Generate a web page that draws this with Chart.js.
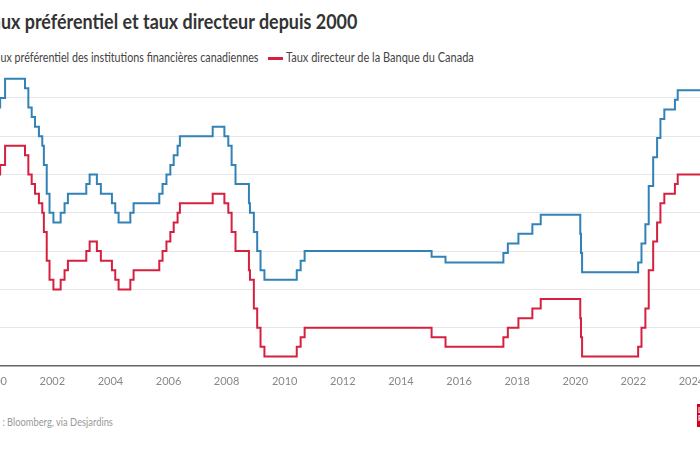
<!DOCTYPE html>
<html lang="fr">
<head>
<meta charset="utf-8">
<script src="https://cdn.jsdelivr.net/npm/chart.js@4.4.1/dist/chart.umd.min.js"></script>
<style>
  html, body { margin:0; padding:0; background:#fff; }
  body { width:700px; height:450px; overflow:hidden; position:relative; font-family: Lato, "Open Sans", sans-serif; }
  .txt { position:absolute; white-space:nowrap; transform-origin:0 0; }
  #title { top:8px; font-size:21px; font-weight:700; color:#333; }
  .lgtxt { top:49px; font-size:13.5px; color:#444; }
  .mk { position:absolute; width:15px; height:2.5px; top:57px; }
  #wrap { position:absolute; left:-60px; top:50px; width:776px; height:346px; }
  #source { top:415px; font-size:11px; color:#999; }
  #logo { position:absolute; left:697px; top:404px; width:30px; height:23px; background:#d0021b; color:#fff; font-size:7px; font-weight:700; line-height:8px; padding:2px 1px; box-sizing:border-box; }
</style>
</head>
<body>
<div id="title" class="txt">Taux préférentiel et taux directeur depuis 2000</div>
<span id="mk0" class="mk" style="left:-40px"></span>
<div id="lg0" class="txt lgtxt"></div>
<span id="mk1" class="mk" style="left:268px"></span>
<div id="lg1" class="txt lgtxt"></div>
<div id="wrap"><canvas id="c" width="776" height="346"></canvas></div>
<div id="source" class="txt">Source : Bloomberg, via Desjardins</div>
<div id="logo">LA<br>PRESSE</div>
<script>
// ---- Data ----
const seriesNames = ["Taux préférentiel des institutions financières canadiennes", "Taux directeur de la Banque du Canada"];
const seriesColors = ["#3282b8", "#d5213f"];

const primeDates = ["2000-01-01","2000-02-03","2000-03-16","2000-05-17","2001-01-23","2001-03-06","2001-04-17","2001-05-29","2001-07-17","2001-08-28","2001-09-17","2001-10-23","2001-11-27","2002-01-15","2002-04-16","2002-06-04","2002-07-16","2003-03-04","2003-04-15","2003-07-15","2003-09-03","2004-01-20","2004-03-02","2004-04-13","2004-09-08","2004-10-19","2005-09-07","2005-10-18","2005-12-06","2006-01-24","2006-03-07","2006-04-25","2006-05-24","2007-07-10","2007-12-04","2008-01-22","2008-03-04","2008-04-22","2008-10-08","2008-10-21","2008-12-09","2009-01-20","2009-03-03","2009-04-21","2010-06-01","2010-07-20","2010-09-08","2015-01-21","2015-07-15","2017-07-12","2017-09-06","2018-01-17","2018-07-11","2018-10-24","2020-03-04","2020-03-13","2020-03-27","2022-03-02","2022-04-13","2022-06-01","2022-07-13","2022-09-07","2022-10-26","2022-12-07","2023-01-25","2023-06-07","2023-07-12","2024-05-30"];
const primeRates = [6.50,6.75,7.00,7.50,7.25,6.75,6.50,6.25,6.00,5.75,5.25,4.50,4.00,3.75,4.00,4.25,4.50,4.75,5.00,4.75,4.50,4.25,4.00,3.75,4.00,4.25,4.50,4.75,5.00,5.25,5.50,5.75,6.00,6.25,6.00,5.75,5.25,4.75,4.25,4.00,3.50,3.00,2.50,2.25,2.50,2.75,3.00,2.85,2.70,2.95,3.20,3.45,3.70,3.95,3.45,2.95,2.45,2.70,3.20,3.70,4.70,5.45,5.95,6.45,6.70,6.95,7.20,7.20];

const policyDates = primeDates;
const policyRates = [4.75,5.00,5.25,5.75,5.50,5.00,4.75,4.50,4.25,4.00,3.50,2.75,2.25,2.00,2.25,2.50,2.75,3.00,3.25,3.00,2.75,2.50,2.25,2.00,2.25,2.50,2.75,3.00,3.25,3.50,3.75,4.00,4.25,4.50,4.25,4.00,3.50,3.00,2.50,2.25,1.50,1.00,0.50,0.25,0.50,0.75,1.00,0.75,0.50,0.75,1.00,1.25,1.50,1.75,1.25,0.75,0.25,0.50,1.00,1.50,2.50,3.25,3.75,4.25,4.50,4.75,5.00,5.00];

const xMin = 2000, xMax = 2024.5, xStep = 2;
const yMin = 0, yMax = 8, yStep = 1;

// ---- helpers ----
function toYear(s) {
  const [y, m, d] = s.split("-").map(Number);
  const start = Date.UTC(y, 0, 1), end = Date.UTC(y + 1, 0, 1);
  return y + (Date.UTC(y, m - 1, d) - start) / (end - start);
}
function pts(dates, vals) { return dates.map((d, i) => ({ x: toYear(d), y: vals[i] })); }

document.getElementById("lg0").textContent = seriesNames[0];
document.getElementById("lg1").textContent = seriesNames[1];
document.getElementById("mk0").style.background = seriesColors[0];
document.getElementById("mk1").style.background = seriesColors[1];

// fit a text so that the part after `prefix` spans [x0, x1] (the reference is a cropped picture)
const mctx = document.createElement("canvas").getContext("2d");
function fitText(id, prefix, x0, x1) {
  const el = document.getElementById(id);
  const cs = getComputedStyle(el);
  mctx.font = cs.fontWeight + " " + cs.fontSize + " " + cs.fontFamily;
  const P = mctx.measureText(prefix).width, W = mctx.measureText(el.textContent).width;
  const s = (x1 - x0) / (W - P);
  el.style.transform = "scaleX(" + s + ")";
  el.style.left = (x0 - s * P) + "px";
}
function layoutTexts() {
  fitText("title", "Taux ", 25, 358);
  fitText("lg0", "Taux ", 14, 258);
  fitText("lg1", "", 286, 474);
  fitText("source", "Source ", 2, 112.7);
}
layoutTexts();
if (document.fonts && document.fonts.ready) document.fonts.ready.then(layoutTexts);

new Chart(document.getElementById("c"), {
  type: "line",
  data: {
    datasets: [
      { label: seriesNames[0], data: pts(primeDates, primeRates), borderColor: seriesColors[0], borderWidth: 2, stepped: true, pointRadius: 0, fill: false },
      { label: seriesNames[1], data: pts(policyDates, policyRates), borderColor: seriesColors[1], borderWidth: 2, stepped: true, pointRadius: 0, fill: false }
    ]
  },
  options: {
    responsive: false, animation: false, devicePixelRatio: 1,
    layout: { padding: { left: 54.2, right: 10, top: 9.6, bottom: 0 } },
    plugins: { legend: { display: false }, title: { display: false }, tooltip: { enabled: false } },
    scales: {
      x: {
        type: "linear", min: xMin, max: xMax,
        afterFit: s => { s.height = 30; },
        grid: { display: false, drawTicks: false },
        border: { display: true, color: "#666", width: 1.5 },
        ticks: { stepSize: xStep, includeBounds: false, autoSkip: false, maxRotation: 0, color: "#888", padding: 9,
                 font: { family: "Lato", size: 11 }, callback: v => String(v) }
      },
      y: {
        min: yMin, max: yMax,
        afterFit: s => { s.width = 0; },
        ticks: { display: false, stepSize: yStep, includeBounds: false },
        grid: { drawTicks: false, color: c => (c.tick.value > yMin && c.tick.value < yMax) ? "#e6e6e6" : "rgba(0,0,0,0)" },
        border: { display: false }
      }
    }
  }
});
</script>
</body>
</html>
